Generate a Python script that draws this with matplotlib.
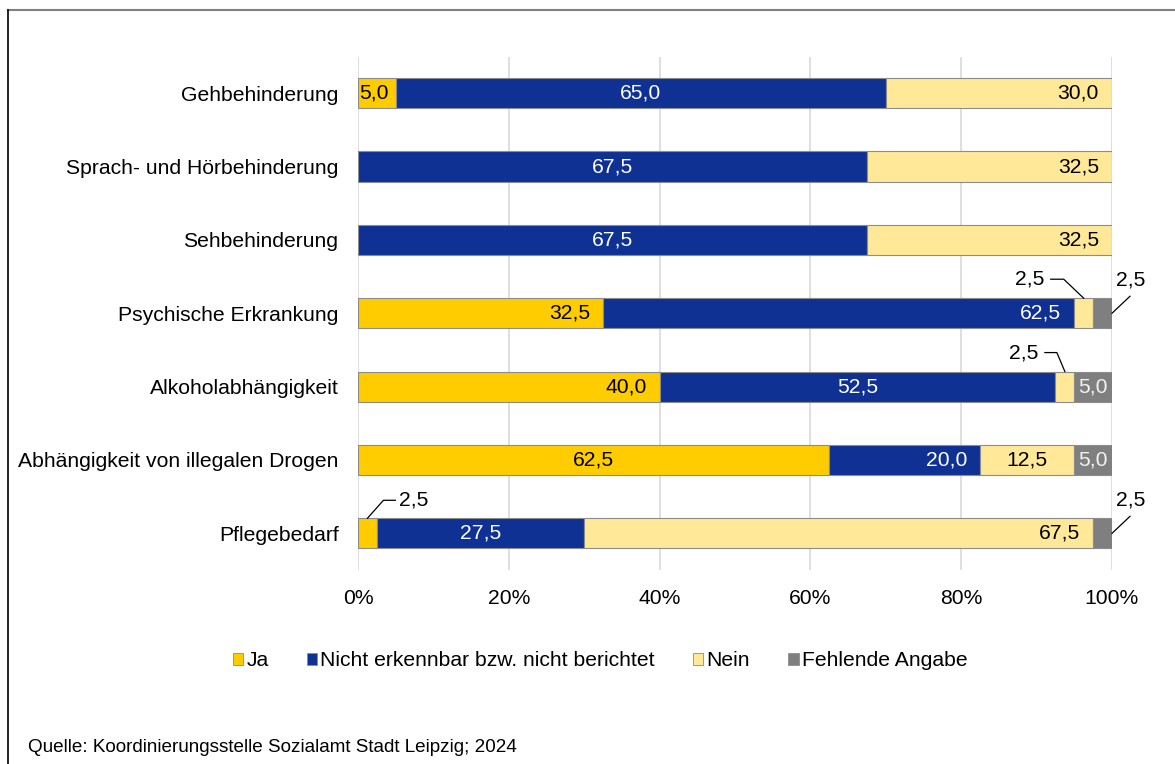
import matplotlib
matplotlib.use("Agg")
import matplotlib.pyplot as plt
from matplotlib.lines import Line2D
from matplotlib.patches import Patch
import numpy as np

plt.rcParams['font.family'] = ['Liberation Sans', 'DejaVu Sans']

categories = ["Gehbehinderung", "Sprach- und Hörbehinderung", "Sehbehinderung",
              "Psychische Erkrankung", "Alkoholabhängigkeit",
              "Abhängigkeit von illegalen Drogen", "Pflegebedarf"]
series_names = ["Ja", "Nicht erkennbar bzw. nicht berichtet", "Nein", "Fehlende Angabe"]
ja = [5.0, 0.0, 0.0, 32.5, 40.0, 62.5, 2.5]
nicht = [65.0, 67.5, 67.5, 62.5, 52.5, 20.0, 27.5]
nein = [30.0, 32.5, 32.5, 2.5, 2.5, 12.5, 67.5]
fehlend = [0.0, 0.0, 0.0, 2.5, 5.0, 5.0, 2.5]
xticks = [0, 20, 40, 60, 80, 100]
xticklabels = ["0%", "20%", "40%", "60%", "80%", "100%"]
source = "Quelle: Koordinierungsstelle Sozialamt Stadt Leipzig; 2024"

FS = 15.2
colors = ["#FFCC00", "#0F3193", "#FFE999", "#7F7F7F"]
text_colors = ["black", "white", "black", "#F2F2F2"]
# label placement per series/row: 'c' centre, 'e' inside end, 'l0' inside start, leaders otherwise
placement = [
    ['l0', None, None, 'e', 'e', 'c', 'L'],
    ['c', 'c', 'c', 'e', 'c', 'e', 'c'],
    ['e', 'e', 'e', 'N1', 'N2', 'c', 'e'],
    [None, None, None, 'R', 'c', 'c', 'R'],
]

W, H = 1175, 764
fig = plt.figure(figsize=(W / 100, H / 100), dpi=100)
ax = fig.add_axes([358 / W, 1 - 570 / H, (1112 - 358) / W, (570 - 56.5) / H])

data = [ja, nicht, nein, fehlend]
y = np.arange(len(categories))
left = np.zeros(len(categories))
bars = []
for i, vals in enumerate(data):
    ax.barh(y, vals, left=left, height=0.41, color=colors[i],
            edgecolor="#8C8C8C", linewidth=0.8, label=series_names[i], zorder=3)
    bars.append((left.copy(), np.array(vals)))
    left = left + np.array(vals)

ax.set_xlim(0, 100)
ax.set_ylim(len(categories) - 0.5, -0.5)
ax.set_xticks(xticks)
ax.set_xticklabels(xticklabels, fontsize=FS)
ax.set_yticks(y)
ax.set_yticklabels(categories, fontsize=FS)
ax.tick_params(axis='both', length=0)
ax.tick_params(axis='x', pad=14)
ax.tick_params(axis='y', pad=14)
for s in ax.spines.values():
    s.set_visible(False)
ax.grid(axis='x', color="#D9D9D9", linewidth=1.2, zorder=0)
ax.set_axisbelow(True)

fig.canvas.draw()

def fmt(v):
    return f"{v:.1f}".replace(".", ",")

def to_data(px, py):
    return ax.transData.inverted().transform((px, py))

for i in range(4):
    lefts, vals = bars[i]
    for r in range(len(categories)):
        p = placement[i][r]
        v = vals[r]
        if p is None or v == 0:
            continue
        x0, w = lefts[r], v
        if p == 'c':
            ax.text(x0 + w / 2, r, fmt(v), ha='center', va='center',
                    color=text_colors[i], fontsize=FS, zorder=5)
        elif p == 'e':
            ax.annotate(fmt(v), (x0 + w, r), xytext=(-13, 0), textcoords='offset pixels',
                        ha='right', va='center', color=text_colors[i], fontsize=FS, zorder=5)
        elif p == 'l0':
            ax.annotate(fmt(v), (x0, r), xytext=(1, 0), textcoords='offset pixels',
                        ha='left', va='center', color=text_colors[i], fontsize=FS, zorder=5)
        else:
            # leader line labels; offsets in pixels (image y downward)
            if p in ('N1', 'N2', 'L'):
                ax_pt = ax.transData.transform((x0 + w / 2, r - 0.205))
            else:
                ax_pt = ax.transData.transform((x0 + w, r))
            if p == 'N1':
                verts = [(0, 0), (-20, -19), (-33, -19)]
                txt, ha = (-39, -19), 'right'
            elif p == 'N2':
                verts = [(0, 0), (-8, -19), (-20, -19)]
                txt, ha = (-26, -19), 'right'
            elif p == 'L':
                verts = [(0, 0), (16, -18), (28, -18)]
                txt, ha = (32, -18), 'left'
            else:
                verts = [(0, 0), (18, -17)]
                txt, ha = (19, -33), 'center'
            pts = [to_data(ax_pt[0] + dx, ax_pt[1] - dy) for dx, dy in verts]
            ax.add_line(Line2D([p_[0] for p_ in pts], [p_[1] for p_ in pts],
                               color='black', linewidth=0.9, clip_on=False, zorder=6))
            tp = to_data(ax_pt[0] + txt[0], ax_pt[1] - txt[1])
            ax.text(tp[0], tp[1], fmt(v), ha=ha, va='center', color='black',
                    fontsize=FS, zorder=6, clip_on=False)

handles = [Patch(facecolor=colors[i], edgecolor="#8C8C8C", linewidth=0.6) for i in range(4)]
fig.legend(handles, series_names, loc='center', bbox_to_anchor=(600 / W, 1 - 661 / H),
           ncol=4, frameon=False, fontsize=FS, handlelength=0.5, handleheight=0.5,
           handletextpad=0.15, columnspacing=1.8)

fig.text(28 / W, 1 - 748 / H, source, ha='left', va='center', fontsize=13.6)

# partial frame
fig.add_artist(Line2D([8 / W, 1], [1 - 10 / H, 1 - 10 / H], color="#808080", linewidth=1.5,
                      transform=fig.transFigure))
fig.add_artist(Line2D([8 / W, 8 / W], [0, 1 - 10 / H], color="black", linewidth=1.2,
                      transform=fig.transFigure))

fig.savefig("out.png", dpi=100)
